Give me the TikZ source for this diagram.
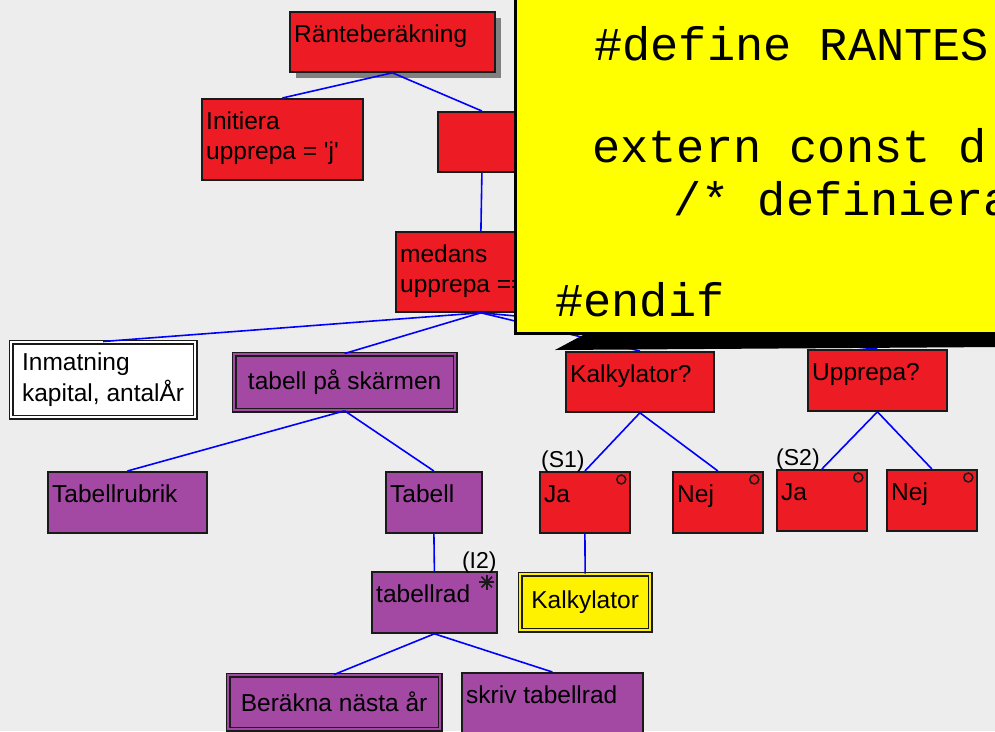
\documentclass[tikz,border=0pt]{standalone}
\usepackage{fontspec}
\setmainfont{Liberation Sans}
\newfontfamily\codefont{Liberation Mono}
\usetikzlibrary{shadows}
\definecolor{bgcol}{HTML}{EDEDED}
\definecolor{jred}{HTML}{ED1C24}
\definecolor{jpurple}{HTML}{A349A4}
\definecolor{jyellow}{HTML}{FFF200}
\definecolor{noteyellow}{HTML}{FFFF00}
\definecolor{linkblue}{HTML}{0000FF}
\definecolor{edgecol}{HTML}{1A1A1A}
\newcommand\boxfont{\fontsize{24.5}{31}\selectfont}
\newcommand\tagfont{\fontsize{23}{27}\selectfont}
\newcommand\notefont{\codefont\fontsize{47}{51}\selectfont}
\newcommand\sq{\textquotesingle}

\begin{document}
\begin{tikzpicture}[x=1pt,y=-1pt,
  box/.style={draw=edgecol, line width=1.8pt, inner sep=0pt, anchor=north west, font=\boxfont},
  rbox/.style={box, fill=jred},
  pbox/.style={box, fill=jpurple},
  dbox/.style={box, double distance=2.2pt, line width=1.3pt, align=center},
  txtbase/.style={anchor=base west, inner sep=0pt, font=\boxfont, xshift=5pt},
  txt/.style={txtbase, yshift=-31.5pt},
  txttwo/.style={txtbase, yshift=-61.5pt},
  tag/.style={anchor=base west, inner sep=0pt, font=\tagfont},
  link/.style={draw=linkblue, line width=1.6pt},
  flagline/.style={draw=edgecol, line width=1.5pt},
  code/.style={anchor=base west, inner sep=0pt, font=\notefont}
]
\useasboundingbox (0,0) rectangle (995,731);
\clip (0,0) rectangle (995,731);
\fill[bgcol] (0,0) rectangle (995,731);

% --- sequence / selection / iteration boxes ---
\node[rbox, minimum width=205, minimum height=60,
      drop shadow={shadow xshift=6pt, shadow yshift=-6pt, fill=black!50, opacity=1}]
      (root) at (289,11) {};
\node[txt] (rootT) at (root.north west) {Ränteberäkning};

\node[rbox, minimum width=161, minimum height=81] (init) at (201,98) {};
\node[txt] (initA) at (init.north west) {Initiera};
\node[txttwo] (initB) at (init.north west) {upprepa = \sq j\sq};

\node[rbox, minimum width=88, minimum height=60] (hid) at (437,111) {};

\node[rbox, minimum width=170, minimum height=80] (medans) at (395,231) {};
\node[txt] (medansA) at (medans.north west) {medans};
\node[txttwo] (medansB) at (medans.north west) {upprepa ==};

\node[dbox, fill=white, double=white, align=left, minimum width=184, minimum height=75]
      (inmat) at (10.5,341.5) {Inmatning\\kapital, antalÅr};
\node[dbox, fill=jpurple, double=jpurple, minimum width=221, minimum height=56]
      (tps) at (233.5,353.5) {tabell på skärmen};

\node[rbox, minimum width=148, minimum height=60] (kalkq) at (565,351) {};
\node[txt] (kalkqT) at (kalkq.north west) {Kalkylator?};
\node[rbox, minimum width=139, minimum height=61] (uppq) at (807,349) {};
\node[txt] (uppqT) at (uppq.north west) {Upprepa?};

\node[pbox, minimum width=159, minimum height=61] (rubrik) at (47,471) {};
\node[txt] (rubrikT) at (rubrik.north west) {Tabellrubrik};
\node[pbox, minimum width=96, minimum height=61] (tabell) at (385,471) {};
\node[txt] (tabellT) at (tabell.north west) {Tabell};

\node[rbox, minimum width=90, minimum height=61] (ja1) at (539,471) {};
\node[txt] (ja1T) at (ja1.north west) {Ja};
\node[rbox, minimum width=90, minimum height=61] (nej1) at (672,471) {};
\node[txt] (nej1T) at (nej1.north west) {Nej};
\node[rbox, minimum width=90, minimum height=61] (ja2) at (776,469) {};
\node[txt] (ja2T) at (ja2.north west) {Ja};
\node[rbox, minimum width=90, minimum height=61] (nej2) at (886,469) {};
\node[txt] (nej2T) at (nej2.north west) {Nej};

\node[pbox, minimum width=125, minimum height=61] (trad) at (371,571) {};
\node[txt] (tradT) at (trad.north west) {tabellrad};
\node[dbox, fill=jyellow, double=jyellow, minimum width=130, minimum height=56]
      (kalk) at (519.5,573.5) {Kalkylator};

\node[dbox, fill=jpurple, double=jpurple, minimum width=212, minimum height=54]
      (berakna) at (227.5,674.5) {Beräkna nästa år};
\node[pbox, minimum width=181, minimum height=60] (skriv) at (461,672) {};
\node[txt] (skrivT) at (skriv.north west) {skriv tabellrad};

% --- condition and iteration marks ---
\node[tag] (s1) at ([shift={(2,-4)}]ja1.north west) {(S1)};
\node[tag] (s2) at ([shift={(0,-3.5)}]ja2.north west) {(S2)};
\node[tag] (i2) at ([shift={(-36,-2.5)}]trad.north east) {(I2)};
\foreach \b in {ja1,nej1,ja2,nej2}
  \draw[flagline] ([shift={(-9.5,8.5)}]\b.north east) circle (4.5pt);
\coordinate (star) at ([shift={(-11,11)}]trad.north east);
\foreach \a in {0,45,90,135}
  \draw[flagline, line width=1.7pt] (star) ++(\a:7.5) -- ++(\a+180:15);

% --- tree connectors ---
\draw[link] (root.south) -- (init.north);
\draw[link] (root.south) -- (hid.north);
\draw[link] (hid.south) -- (medans.north);
\draw[link] (medans.south) -- (inmat.north);
\draw[link] (medans.south) -- (tps.north);
\draw[link] (medans.south) -- (kalkq.north);
\draw[link] (medans.south) -- (uppq.north);
\draw[link] (tps.south) -- (rubrik.north);
\draw[link] (tps.south) -- (tabell.north);
\draw[link] (tabell.south) -- (trad.north);
\draw[link] (trad.south) -- (berakna.north);
\draw[link] (trad.south) -- (skriv.north);
\draw[link] (kalkq.south) -- (ja1.north);
\draw[link] (kalkq.south) -- (nej1.north);
\draw[link] (ja1.south) -- (kalk.north);
\draw[link] (uppq.south) -- (ja2.north);
\draw[link] (uppq.south) -- (nej2.north);

% --- code note ---
\fill[black] (555,350) -- (583,335) -- (1000,335) -- (1000,347) -- cycle;
\draw[line width=3pt, fill=noteyellow] (515.5,-10) rectangle (1010,333.5);
\node[code] (c1) at (594,60) {\#define RANTES};
\node[code] (c2) at (592,162.7) {extern const d};
\node[code] (c3) at (673,215) {/* definiera};
\node[code] (c4) at (555,316.7) {\#endif};
\end{tikzpicture}
\end{document}
